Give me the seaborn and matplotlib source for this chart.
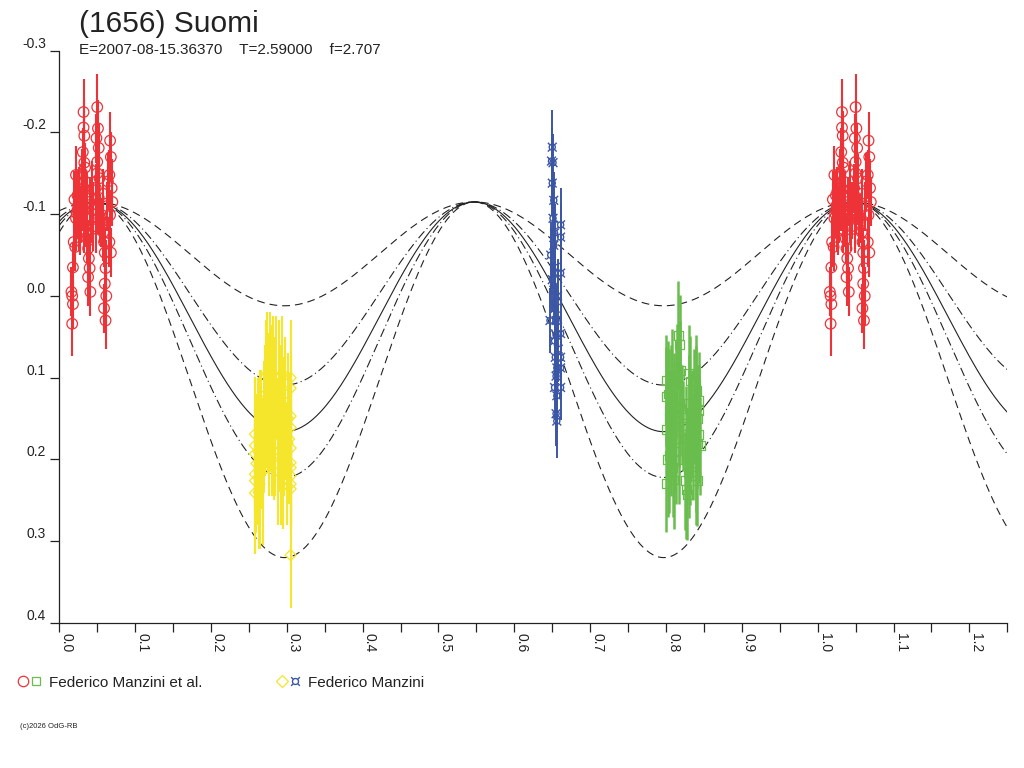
import numpy as np
import pandas as pd
import matplotlib
matplotlib.use('Agg')
import matplotlib.pyplot as plt
import seaborn as sns
from matplotlib.lines import Line2D
from matplotlib.legend_handler import HandlerTuple
from matplotlib.ticker import MultipleLocator, FuncFormatter

sns.set_style('ticks')
plt.rcParams['font.family'] = ['Liberation Sans', 'DejaVu Sans']

# --- model light curve (2nd harmonic fit) ---
model_peak_phase = 0.047
model_peak_mag = -0.115
model_trough_mag = [0.012, 0.109, 0.166, 0.222, 0.320]

# --- Federico Manzini et al., session 1 (red circles) ---
red_phase = [0.017, 0.018, 0.017, 0.019, 0.018, 0.016,
             0.022, 0.024, 0.025, 0.023, 0.026, 0.027, 0.021, 0.024, 0.026, 0.022,
             0.032, 0.032, 0.033, 0.031, 0.033, 0.034, 0.030, 0.032, 0.035, 0.033, 0.031, 0.034, 0.035,
             0.038, 0.039, 0.040, 0.038, 0.041, 0.037, 0.042, 0.040, 0.043, 0.044,
             0.050, 0.051, 0.049, 0.052, 0.050, 0.053, 0.048, 0.051, 0.054, 0.049, 0.052, 0.050,
             0.058, 0.059, 0.060, 0.061, 0.060, 0.062, 0.059, 0.061, 0.057, 0.063, 0.058,
             0.067, 0.068, 0.066, 0.069, 0.067, 0.066, 0.068, 0.070,
             0.020, 0.028, 0.036, 0.045, 0.055, 0.064]
red_mag = [0.000, 0.010, 0.034, -0.066, -0.035, -0.005,
           -0.148, -0.123, -0.111, -0.101, -0.090, -0.080, -0.060, -0.105, -0.128, -0.095,
           -0.225, -0.206, -0.196, -0.176, -0.163, -0.157, -0.150, -0.131, -0.123, -0.082, -0.110, -0.140, -0.095,
           -0.058, -0.046, -0.034, -0.023, -0.005, -0.070, -0.095, -0.115, -0.130, -0.085,
           -0.231, -0.205, -0.193, -0.181, -0.164, -0.144, -0.132, -0.111, -0.095, -0.082, -0.120, -0.150,
           -0.078, -0.066, -0.053, -0.034, -0.015, 0.000, 0.015, 0.030, -0.095, -0.110, -0.125,
           -0.190, -0.170, -0.148, -0.132, -0.099, -0.066, -0.053, -0.115,
           -0.118, -0.100, -0.120, -0.105, -0.090, -0.140]
red_err = [0.035, 0.030, 0.040, 0.030, 0.030, 0.030,
           0.035, 0.030, 0.030, 0.030, 0.035, 0.030, 0.030, 0.030, 0.030, 0.040,
           0.040, 0.035, 0.030, 0.030, 0.035, 0.030, 0.030, 0.035, 0.030, 0.030, 0.030, 0.030, 0.035,
           0.035, 0.030, 0.030, 0.035, 0.030, 0.030, 0.030, 0.030, 0.035, 0.030,
           0.040, 0.035, 0.030, 0.030, 0.035, 0.030, 0.030, 0.035, 0.030, 0.030, 0.030, 0.035,
           0.035, 0.030, 0.030, 0.035, 0.030, 0.035, 0.030, 0.035, 0.030, 0.030, 0.030,
           0.035, 0.030, 0.030, 0.035, 0.030, 0.030, 0.030, 0.030,
           0.035, 0.035, 0.030, 0.035, 0.030, 0.035]

# --- Federico Manzini et al., session 2 (green squares) ---
green_phase = [0.816, 0.818, 0.814, 0.819, 0.800, 0.800, 0.830, 0.832, 0.839, 0.840,
               0.843, 0.843, 0.830, 0.819, 0.817, 0.801, 0.823, 0.832, 0.839, 0.843,
               0.841, 0.845, 0.828, 0.832, 0.817, 0.839, 0.830, 0.839, 0.841, 0.800,
               0.825, 0.828, 0.827,
               0.803, 0.805, 0.807, 0.809, 0.811, 0.804, 0.806, 0.808, 0.810, 0.812,
               0.813, 0.802, 0.821, 0.834, 0.836, 0.804, 0.807, 0.810, 0.813, 0.826,
               0.837, 0.842]
green_mag = [0.048, 0.059, 0.089, 0.091, 0.103, 0.123, 0.095, 0.104, 0.108, 0.116,
             0.128, 0.140, 0.132, 0.138, 0.149, 0.163, 0.159, 0.167, 0.161, 0.169,
             0.181, 0.183, 0.192, 0.196, 0.200, 0.204, 0.216, 0.220, 0.226, 0.229,
             0.226, 0.243, 0.237,
             0.120, 0.150, 0.180, 0.210, 0.135, 0.195, 0.165, 0.105, 0.225, 0.175,
             0.115, 0.200, 0.145, 0.155, 0.190, 0.140, 0.130, 0.160, 0.190, 0.175,
             0.135, 0.150]
green_err = [0.066, 0.060, 0.055, 0.060, 0.055, 0.060, 0.060, 0.055, 0.060, 0.055,
             0.060, 0.055, 0.060, 0.055, 0.060, 0.060, 0.055, 0.060, 0.055, 0.060,
             0.055, 0.060, 0.055, 0.060, 0.055, 0.060, 0.055, 0.060, 0.055, 0.060,
             0.060, 0.055, 0.060,
             0.065, 0.060, 0.065, 0.060, 0.065, 0.070, 0.060, 0.065, 0.060, 0.065,
             0.060, 0.070, 0.060, 0.065, 0.060, 0.075, 0.070, 0.070, 0.065, 0.065,
             0.070, 0.065]

# --- Federico Manzini, session 1 (yellow diamonds) ---
yellow_phase = [0.258, 0.258, 0.258, 0.258, 0.258, 0.258,
                0.305, 0.305, 0.305, 0.305, 0.305, 0.305, 0.305, 0.305, 0.305, 0.305,
                0.305,
                0.262, 0.264, 0.266, 0.268, 0.270, 0.272, 0.274, 0.276, 0.278, 0.280,
                0.282, 0.284, 0.286, 0.288, 0.290, 0.292, 0.294, 0.296, 0.298, 0.300,
                0.302, 0.263, 0.269, 0.277, 0.283, 0.289, 0.295, 0.301,
                0.260, 0.265, 0.271, 0.275, 0.279, 0.285, 0.291, 0.297, 0.303]
yellow_mag = [0.169, 0.183, 0.193, 0.218, 0.226, 0.241,
              0.100, 0.113, 0.147, 0.161, 0.186, 0.204, 0.210, 0.220, 0.230, 0.236,
              0.317,
              0.190, 0.230, 0.175, 0.215, 0.160, 0.120, 0.095, 0.150, 0.090, 0.170,
              0.110, 0.140, 0.100, 0.180, 0.120, 0.200, 0.095, 0.160, 0.130, 0.205,
              0.150, 0.240, 0.200, 0.175, 0.190, 0.215, 0.225, 0.180,
              0.205, 0.180, 0.140, 0.130, 0.125, 0.160, 0.150, 0.140, 0.175]
yellow_err = [0.070, 0.080, 0.060, 0.080, 0.090, 0.075,
              0.070, 0.080, 0.075, 0.070, 0.080, 0.070, 0.075, 0.060, 0.055, 0.050,
              0.065,
              0.090, 0.080, 0.085, 0.090, 0.080, 0.090, 0.075, 0.090, 0.070, 0.075,
              0.085, 0.090, 0.075, 0.080, 0.090, 0.080, 0.070, 0.085, 0.080, 0.075,
              0.080, 0.070, 0.060, 0.070, 0.060, 0.065, 0.060, 0.070,
              0.085, 0.090, 0.080, 0.085, 0.090, 0.085, 0.090, 0.085, 0.080]

# --- Federico Manzini, session 2 (blue crossed boxes) ---
blue_phase = [0.650, 0.649, 0.651, 0.650, 0.652, 0.651, 0.653, 0.652, 0.654, 0.653,
              0.652, 0.654, 0.655, 0.653, 0.654, 0.656, 0.655, 0.653, 0.656, 0.655,
              0.656,
              0.661, 0.661, 0.661, 0.661, 0.661, 0.661, 0.661,
              0.647, 0.648, 0.657, 0.658, 0.650, 0.655]
blue_mag = [-0.182, -0.165, -0.163, -0.138, -0.117, -0.095, -0.077, -0.062, -0.035, -0.028,
            -0.007, 0.015, 0.048, 0.055, 0.075, 0.088, 0.098, 0.112, 0.122, 0.144,
            0.153,
            -0.087, -0.072, -0.028, 0.046, 0.075, 0.088, 0.112,
            0.030, -0.050, 0.000, 0.065, -0.020, 0.030]
blue_err = [0.045, 0.040, 0.035, 0.040, 0.035, 0.040, 0.035, 0.040, 0.035, 0.040,
            0.035, 0.040, 0.035, 0.040, 0.035, 0.040, 0.035, 0.040, 0.035, 0.040,
            0.045,
            0.045, 0.040, 0.040, 0.035, 0.040, 0.035, 0.040,
            0.040, 0.040, 0.045, 0.040, 0.040, 0.045]

title = '(1656) Suomi'
subtitle = 'E=2007-08-15.36370    T=2.59000    f=2.707'
labels = ['Federico Manzini et al.', 'Federico Manzini']

red = '#ee3338'
green = '#69bd4d'
yellow = '#f5e52b'
blue = '#3b56a5'
ink = '#222222'

fig = plt.figure(figsize=(10.24, 7.68), dpi=100)
ax = fig.add_axes([0.0579, 0.1888, 0.9258, 0.7452])

# model curves
grid = np.linspace(0, 1.25, 600)
shape = (1 - np.cos(4 * np.pi * (grid - model_peak_phase))) / 2
styles = [(0, (7, 4.5)), (0, (8, 3, 1, 3)), '-', (0, (8, 3, 1, 3)), (0, (7, 4.5))]
for trough, ls in zip(model_trough_mag, styles):
    curve = model_peak_mag + (trough - model_peak_mag) * shape
    sns.lineplot(x=grid, y=curve, ax=ax, color=ink, lw=0.8, linestyle=ls,
                 estimator=None, sort=False, zorder=1)


def session(ph, mag, err, wrap=True):
    df = pd.DataFrame({'phase': ph, 'mag': mag, 'err': err})
    if wrap:
        extra = df[df.phase < 0.25].copy()
        extra['phase'] += 1
        df = pd.concat([df, extra], ignore_index=True)
    return df


sets = [
    (session(red_phase, red_mag, red_err), red, 'o', 58, 1.5),
    (session(green_phase, green_mag, green_err), green, 's', 40, 1.8),
    (session(yellow_phase, yellow_mag, yellow_err), yellow, 'D', 32, 1.5),
    (session(blue_phase, blue_mag, blue_err), blue, '$\u00a4$', 50, 1.4),
]
for df, col, mk, size, elw in sets:
    ax.errorbar(df.phase, df['mag'], yerr=df.err, fmt='none', ecolor=col,
                elinewidth=elw, capsize=0, zorder=2)
    if mk.startswith('$'):
        sns.scatterplot(data=df, x='phase', y='mag', ax=ax, marker=mk, s=size,
                        color=col, edgecolor='none', zorder=3)
    else:
        sns.scatterplot(data=df, x='phase', y='mag', ax=ax, marker=mk, s=size,
                        facecolor='none', edgecolor=col, linewidth=0.9, zorder=3)

ax.set_xlim(0, 1.25)
ax.set_ylim(0.4, -0.3)
ax.set_xlabel('')
ax.set_ylabel('')
ax.xaxis.set_major_locator(MultipleLocator(0.1))
ax.xaxis.set_minor_locator(MultipleLocator(0.05))
ax.yaxis.set_major_locator(MultipleLocator(0.1))
fmt = FuncFormatter(lambda v, p: f'{v:.1f}'.replace('-0.0', '0.0'))
ax.xaxis.set_major_formatter(fmt)
ax.yaxis.set_major_formatter(fmt)
ax.tick_params(axis='both', which='both', direction='out', length=6.5, width=0.9,
               color=ink, labelcolor=ink, labelsize=10)
ax.tick_params(axis='x', pad=1.0)
ax.tick_params(axis='y', pad=3)
for lbl in ax.get_xticklabels():
    lbl.set_rotation(270)
    lbl.set_ha('left')
    lbl.set_va('top')
for lbl in ax.get_yticklabels():
    lbl.set_va('bottom')
sns.despine(ax=ax)
for sp in ['left', 'bottom']:
    ax.spines[sp].set_color(ink)
    ax.spines[sp].set_linewidth(0.9)

fig.text(0.0771, 0.958, title, fontsize=21.5, color=ink, va='baseline')
fig.text(0.0771, 0.9297, subtitle, fontsize=11, color=ink, va='baseline')

h_red = Line2D([], [], ls='none', marker='o', ms=7.5, mfc='none', mec=red, mew=0.9)
h_green = Line2D([], [], ls='none', marker='s', ms=5.5, mfc='none', mec=green, mew=0.9)
h_yel = Line2D([], [], ls='none', marker='D', ms=6, mfc='none', mec=yellow, mew=0.9)
h_blue = Line2D([], [], ls='none', marker='$\u00a4$', ms=7, color=blue, mec='none')
fig.legend([(h_red, h_green), (h_yel, h_blue)], labels, loc='center left',
           bbox_to_anchor=(0.018, 0.111), ncol=2, frameon=False,
           handler_map={tuple: HandlerTuple(ndivide=None, pad=0.2)},
           handlelength=1.5, handletextpad=0.5, columnspacing=4.9, fontsize=11,
           borderaxespad=0, borderpad=0, labelcolor=ink)

fig.text(0.0195, 0.052, '(c)2026 OdG-RB', fontsize=5.5, color=ink, va='baseline')

fig.savefig('out.png', dpi=100, facecolor='white')
